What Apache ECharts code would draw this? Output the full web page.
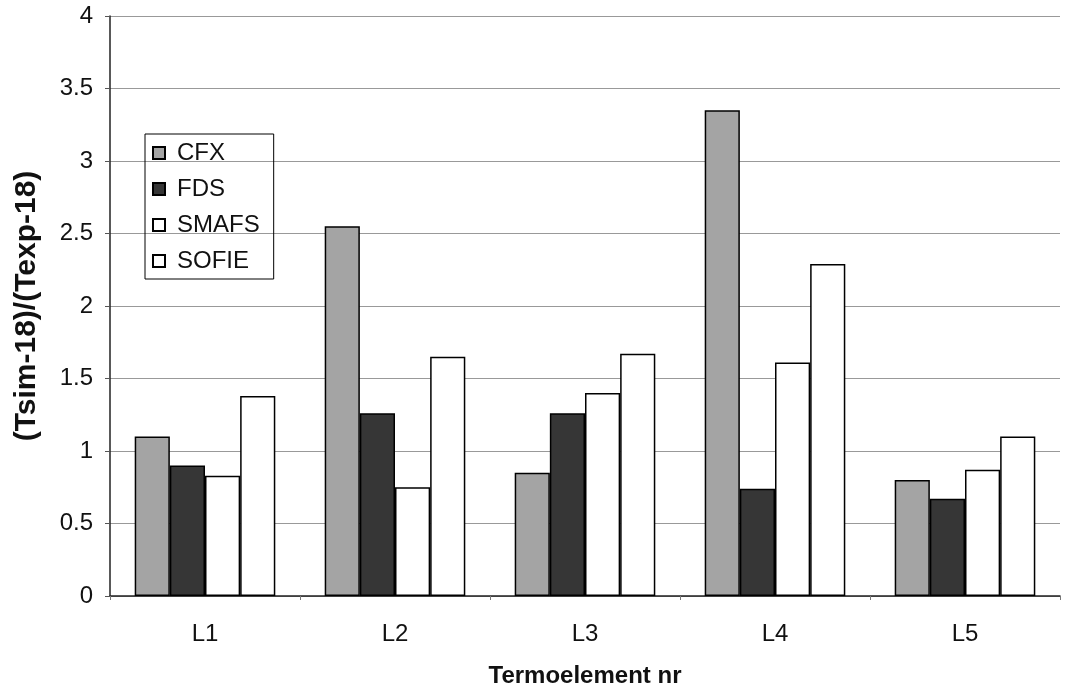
<!DOCTYPE html>
<html>
<head>
<meta charset="utf-8">
<script src="https://cdn.jsdelivr.net/npm/echarts@6/dist/echarts.min.js"></script>
<style>
html,body{margin:0;padding:0;background:#fff;}
#chart{width:1074px;height:700px;}
</style>
</head>
<body>
<div id="chart"></div>
<script>
var categories = ['L1', 'L2', 'L3', 'L4', 'L5'];
var seriesNames = ['CFX', 'FDS', 'SMAFS', 'SOFIE'];
var cfx = [1.10, 2.55, 0.85, 3.35, 0.80];
var fds = [0.90, 1.26, 1.26, 0.74, 0.67];
var smafs = [0.83, 0.75, 1.40, 1.61, 0.87];
var sofie = [1.38, 1.65, 1.67, 2.29, 1.10];
var yTicks = [0, 0.5, 1, 1.5, 2, 2.5, 3, 3.5, 4];

var fills = ['#a4a4a4', '#363636', '#ffffff', '#ffffff'];
var values = [cfx, fds, smafs, sofie];

var chart = echarts.init(document.getElementById('chart'));
var FONT = '"Liberation Sans", Arial, sans-serif';

var series = seriesNames.map(function (name, i) {
  return {
    name: name,
    type: 'bar',
    data: values[i],
    barGap: '0%',
    barCategoryGap: '26%',
    itemStyle: { color: fills[i], borderColor: '#000', borderWidth: 1.5 },
    emphasis: { disabled: true },
    animation: false
  };
});

chart.setOption({
  backgroundColor: '#fff',
  animation: false,
  textStyle: { fontFamily: FONT },
  grid: { left: 110, right: 14, top: 16, bottom: 104 },
  legend: {
    orient: 'vertical',
    left: 145,
    top: 134,
    padding: [7, 14, 6, 7],
    itemGap: 12,
    itemWidth: 12,
    itemHeight: 12,
    borderColor: '#000',
    borderWidth: 1,
    icon: 'rect',
    data: seriesNames,
    textStyle: { fontFamily: FONT, fontSize: 24, color: '#111', padding: [0, 0, 0, 7] }
  },
  xAxis: {
    type: 'category',
    data: categories,
    name: 'Termoelement nr',
    nameLocation: 'middle',
    nameGap: 68,
    nameTextStyle: { fontFamily: FONT, fontSize: 24, fontWeight: 'bold', color: '#111' },
    axisLine: { lineStyle: { color: '#222', width: 1.5 } },
    axisTick: { show: true, length: 4, lineStyle: { color: '#777' } },
    axisLabel: { fontFamily: FONT, fontSize: 24, color: '#111', margin: 26 }
  },
  yAxis: {
    type: 'value',
    min: 0,
    max: 4,
    interval: 0.5,
    name: '(Tsim-18)/(Texp-18)',
    nameLocation: 'middle',
    nameGap: 68,
    nameTextStyle: { fontFamily: FONT, fontSize: 30, fontWeight: 'bold', color: '#111' },
    axisLine: { show: true, lineStyle: { color: '#222', width: 1.5 } },
    axisTick: { show: true, length: 5, lineStyle: { color: '#555' } },
    axisLabel: { fontFamily: FONT, fontSize: 24, color: '#111', margin: 17,
      formatter: function (v) { return String(v); } },
    splitLine: { show: true, lineStyle: { color: '#999', width: 1 } }
  },
  series: series
});
</script>
</body>
</html>
